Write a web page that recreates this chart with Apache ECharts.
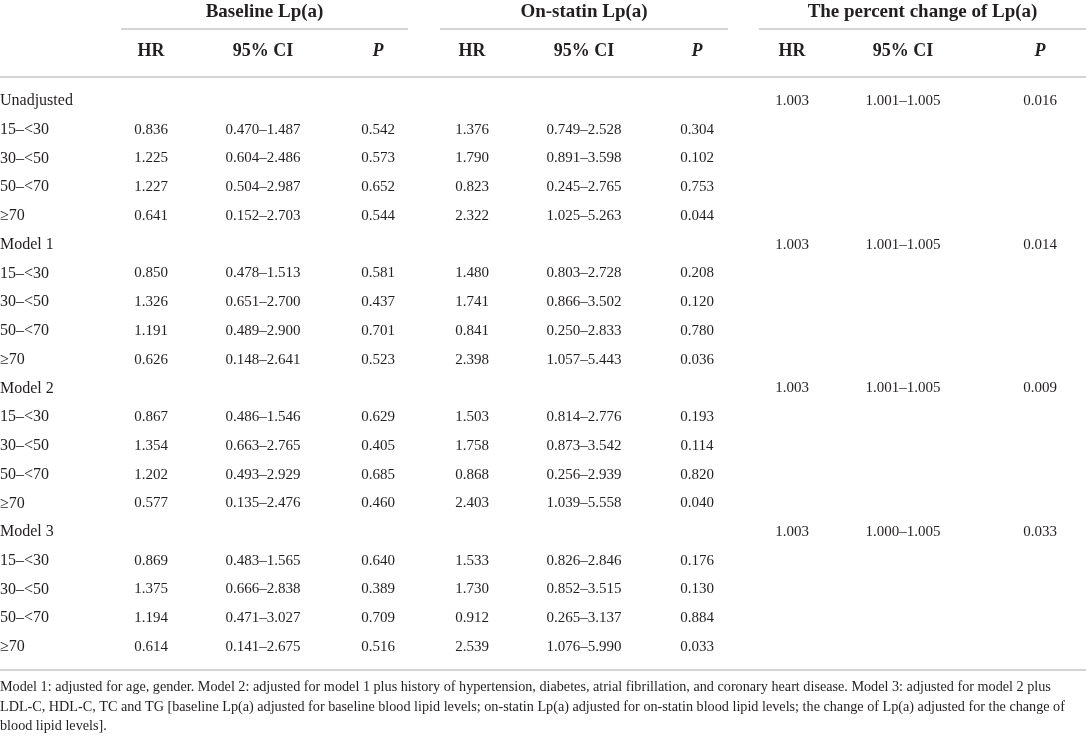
<!DOCTYPE html>
<html>
<head>
<meta charset="utf-8">
<title>Lp(a) HR table</title>
<script src="https://cdn.jsdelivr.net/npm/echarts@6/dist/echarts.min.js"></script>
<style>
  html, body { margin: 0; padding: 0; background: #fff; }
  #main { width: 1090px; height: 739px; }
</style>
</head>
<body>
<div id="main"></div>
<script>
// 行标签
var models = ['Unadjusted', 'Model 1', 'Model 2', 'Model 3'];
var strata = ['15–<30', '30–<50', '50–<70', '≥70'];

// Baseline Lp(a)
var baseHR = [[0.836, 1.225, 1.227, 0.641], [0.850, 1.326, 1.191, 0.626], [0.867, 1.354, 1.202, 0.577], [0.869, 1.375, 1.194, 0.614]];
var baseLo = [[0.470, 0.604, 0.504, 0.152], [0.478, 0.651, 0.489, 0.148], [0.486, 0.663, 0.493, 0.135], [0.483, 0.666, 0.471, 0.141]];
var baseHi = [[1.487, 2.486, 2.987, 2.703], [1.513, 2.700, 2.900, 2.641], [1.546, 2.765, 2.929, 2.476], [1.565, 2.838, 3.027, 2.675]];
var baseP = [[0.542, 0.573, 0.652, 0.544], [0.581, 0.437, 0.701, 0.523], [0.629, 0.405, 0.685, 0.460], [0.640, 0.389, 0.709, 0.516]];

// On-statin Lp(a)
var statHR = [[1.376, 1.790, 0.823, 2.322], [1.480, 1.741, 0.841, 2.398], [1.503, 1.758, 0.868, 2.403], [1.533, 1.730, 0.912, 2.539]];
var statLo = [[0.749, 0.891, 0.245, 1.025], [0.803, 0.866, 0.250, 1.057], [0.814, 0.873, 0.256, 1.039], [0.826, 0.852, 0.265, 1.076]];
var statHi = [[2.528, 3.598, 2.765, 5.263], [2.728, 3.502, 2.833, 5.443], [2.776, 3.542, 2.939, 5.558], [2.846, 3.515, 3.137, 5.990]];
var statP = [[0.304, 0.102, 0.753, 0.044], [0.208, 0.120, 0.780, 0.036], [0.193, 0.114, 0.820, 0.040], [0.176, 0.130, 0.884, 0.033]];

// The percent change of Lp(a) (每个模型一行)
var pctHR = [1.003, 1.003, 1.003, 1.003];
var pctLo = [1.001, 1.001, 1.001, 1.000];
var pctHi = [1.005, 1.005, 1.005, 1.005];
var pctP = [0.016, 0.014, 0.009, 0.033];

var groupTitles = ['Baseline Lp(a)', 'On-statin Lp(a)', 'The percent change of Lp(a)'];
var colTitles = ['HR', '95% CI', 'P'];

var footnote = 'Model 1: adjusted for age, gender. Model 2: adjusted for model 1 plus history of hypertension, diabetes, atrial fibrillation, and coronary heart disease. Model 3: adjusted for model 2 plus\n' +
  'LDL-C, HDL-C, TC and TG [baseline Lp(a) adjusted for baseline blood lipid levels; on-statin Lp(a) adjusted for on-statin blood lipid levels; the change of Lp(a) adjusted for the change of\n' +
  'blood lipid levels].';

// 版式
var colX = [151, 263, 378, 472, 584, 697, 792, 903, 1040];
var groupX = [[121, 408], [440, 728], [759, 1086]];
var FONT = '"Liberation Serif", "DejaVu Serif", serif';
var INK = '#231f20';
var RULE = '#d4d4d4';

function f3(v) { return v.toFixed(3); }

// 组装单元格: [x, 行号], 文本另存
var labelCells = [], labelTexts = [];
var valueCells = [], valueTexts = [];
function addValue(x, r, t) { valueCells.push([x, r]); valueTexts.push(t); }

var row = 0;
models.forEach(function (m, mi) {
  labelCells.push([0, row]); labelTexts.push(m);
  addValue(colX[6], row, f3(pctHR[mi]));
  addValue(colX[7], row, f3(pctLo[mi]) + '–' + f3(pctHi[mi]));
  addValue(colX[8], row, f3(pctP[mi]));
  row++;
  strata.forEach(function (s, si) {
    labelCells.push([0, row]); labelTexts.push(s);
    addValue(colX[0], row, f3(baseHR[mi][si]));
    addValue(colX[1], row, f3(baseLo[mi][si]) + '–' + f3(baseHi[mi][si]));
    addValue(colX[2], row, f3(baseP[mi][si]));
    addValue(colX[3], row, f3(statHR[mi][si]));
    addValue(colX[4], row, f3(statLo[mi][si]) + '–' + f3(statHi[mi][si]));
    addValue(colX[5], row, f3(statP[mi][si]));
    row++;
  });
});

function cellRenderer(texts, align, size) {
  return function (params, api) {
    var p = api.coord([api.value(0), api.value(1)]);
    return {
      type: 'text',
      x: p[0],
      y: p[1],
      style: {
        text: texts[params.dataIndex],
        fill: INK,
        font: size + 'px ' + FONT,
        align: align,
        verticalAlign: 'middle'
      }
    };
  };
}

// 表头和横线
var graphics = [];
groupTitles.forEach(function (t, gi) {
  graphics.push({
    type: 'text', x: (groupX[gi][0] + groupX[gi][1]) / 2, y: 12,
    style: { text: t, fill: INK, font: 'bold 19px ' + FONT, align: 'center', verticalAlign: 'middle' }
  });
  graphics.push({
    type: 'line', shape: { x1: groupX[gi][0], y1: 29, x2: groupX[gi][1], y2: 29 },
    style: { stroke: RULE, lineWidth: 2 }
  });
  colTitles.forEach(function (c, ci) {
    graphics.push({
      type: 'text', x: colX[gi * 3 + ci], y: 51,
      style: {
        text: c, fill: INK, align: 'center', verticalAlign: 'middle',
        font: (c === 'P' ? 'italic bold 18px ' : 'bold 18px ') + FONT
      }
    });
  });
});
graphics.push({ type: 'line', shape: { x1: 0, y1: 77, x2: 1086, y2: 77 }, style: { stroke: RULE, lineWidth: 2 } });
graphics.push({ type: 'line', shape: { x1: 0, y1: 670, x2: 1086, y2: 670 }, style: { stroke: RULE, lineWidth: 2 } });
graphics.push({
  type: 'text', x: 0, y: 678,
  style: { text: footnote, fill: INK, font: '14.2px ' + FONT, lineHeight: 19.5, align: 'left', verticalAlign: 'top' }
});

var chart = echarts.init(document.getElementById('main'), null, { renderer: 'canvas' });

var option = {
  backgroundColor: '#ffffff',
  animation: false,
  grid: { left: 0, right: 0, top: 86.6, height: 574.8 },
  xAxis: { type: 'value', min: 0, max: 1090, show: false },
  yAxis: { type: 'value', min: -0.5, max: 19.5, inverse: true, show: false },
  graphic: graphics,
  series: [
    { type: 'custom', name: 'rows', data: labelCells, renderItem: cellRenderer(labelTexts, 'left', 16), silent: true },
    { type: 'custom', name: 'cells', data: valueCells, renderItem: cellRenderer(valueTexts, 'center', 15), silent: true }
  ]
};

chart.setOption(option);
</script>
</body>
</html>
